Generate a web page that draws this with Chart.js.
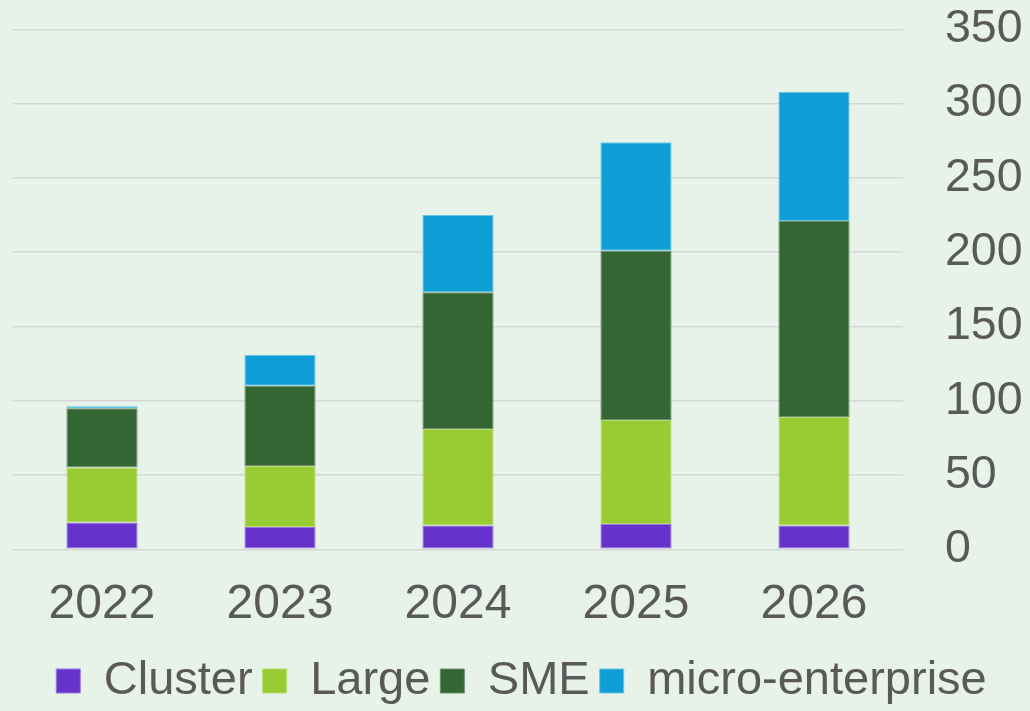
<!DOCTYPE html>
<html>
<head>
<meta charset="utf-8">
<script src="https://cdn.jsdelivr.net/npm/chart.js@4/dist/chart.umd.min.js"></script>
<style>
  html, body { margin: 0; padding: 0; background: #e7f2e9; }
  #wrap { width: 1030px; height: 711px; }
</style>
</head>
<body>
<div id="wrap"><canvas id="chart" width="1030" height="711"></canvas></div>
<script>
const years = ['2022', '2023', '2024', '2025', '2026'];
const cluster = [18, 15, 16, 17, 16];
const large = [37, 41, 65, 70, 73];
const sme = [40, 54, 92, 114, 132];
const micro = [1.3, 21, 52, 73, 87];
const yTicks = [0, 50, 100, 150, 200, 250, 300, 350];

const textColor = '#595959';
const fontFamily = '"Liberation Sans", Arial, sans-serif';

// legend height is fixed so the labels sit where the reference has them
const legendHeight = {
  id: 'legendHeight',
  beforeInit(chart) {
    const fit = chart.legend.fit;
    chart.legend.fit = function () {
      fit.call(this);
      this.height = 63.5;
    };
  },
};

function series(label, data, color, edge) {
  return {
    label,
    data,
    backgroundColor: color,
    borderColor: edge,
    borderWidth: 1,
    borderSkipped: false,
    barPercentage: 0.4,
    categoryPercentage: 1,
  };
}

new Chart(document.getElementById('chart').getContext('2d'), {
  type: 'bar',
  data: {
    labels: years,
    datasets: [
      series('Cluster', cluster, '#6633cc', '#9977dd'),
      series('Large', large, '#99cc33', '#b8dd77'),
      series('SME', sme, '#336633', '#6f8f6f'),
      series('micro-enterprise', micro, '#0f9ed5', '#66c4e6'),
    ],
  },
  options: {
    responsive: false,
    animation: false,
    layout: { padding: { left: 13, top: 29.3, right: 0, bottom: 0 } },
    plugins: {
      tooltip: { enabled: false },
      legend: {
        position: 'bottom',
        labels: {
          color: textColor,
          font: { family: fontFamily, size: 47 },
          boxWidth: 24,
          boxHeight: 24,
          padding: 10,
        },
      },
    },
    scales: {
      x: {
        stacked: true,
        grid: { display: false, drawTicks: false },
        border: { display: false },
        ticks: { color: textColor, font: { family: fontFamily, size: 48 }, padding: 27, maxRotation: 0 },
        afterFit(scale) { scale.height = 98.2; },
      },
      y: {
        stacked: true,
        position: 'right',
        min: 0,
        max: 350,
        afterBuildTicks(scale) { scale.ticks = yTicks.map(v => ({ value: v })); },
        grid: { color: '#d6d6d6', lineWidth: 1.5, drawTicks: false },
        border: { display: false },
        ticks: { color: textColor, font: { family: fontFamily, size: 46.5 }, padding: 42 },
        afterFit(scale) {
          scale.width = 127;
          scale.paddingTop = 0;
          scale.paddingBottom = 0;
        },
      },
    },
  },
  plugins: [legendHeight],
});
</script>
</body>
</html>
